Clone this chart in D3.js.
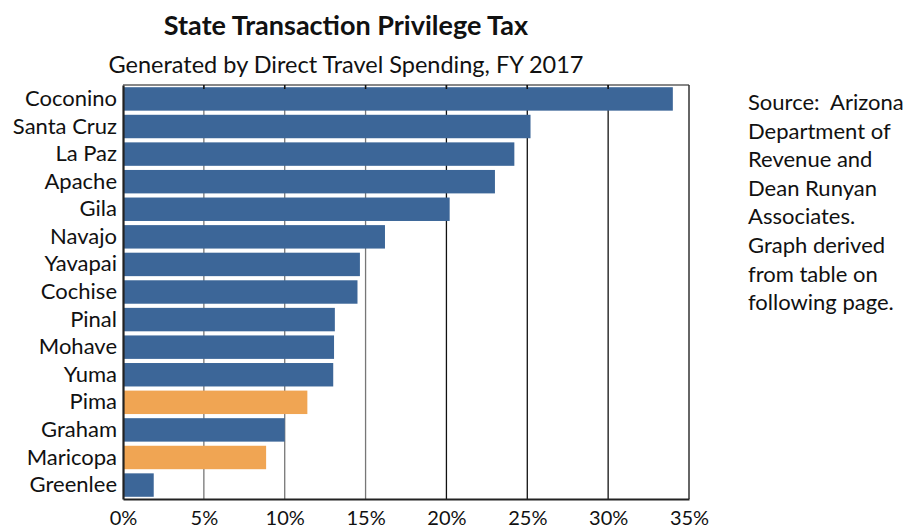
<!DOCTYPE html>
<html>
<head>
<meta charset="utf-8">
<script src="https://cdn.jsdelivr.net/npm/d3@7"></script>
<style>
  body { margin: 0; background: #fff; }
  svg { display: block; }
  text { font-family: Lato, "Open Sans", sans-serif; fill: #111; }
</style>
</head>
<body>
<svg id="chart" width="921" height="531"></svg>
<script>
const counties = ["Coconino","Santa Cruz","La Paz","Apache","Gila","Navajo","Yavapai","Cochise","Pinal","Mohave","Yuma","Pima","Graham","Maricopa","Greenlee"];
const values = [34.0, 25.2, 24.2, 23.0, 20.2, 16.2, 14.65, 14.5, 13.1, 13.05, 13.0, 11.4, 10.0, 8.85, 1.9];
const highlighted = ["Pima","Maricopa"];
const xTicks = [0, 5, 10, 15, 20, 25, 30, 35];
const title = "State Transaction Privilege Tax";
const subtitle = "Generated by Direct Travel Spending, FY 2017";
const sourceLines = ["Source:  Arizona","Department of","Revenue and","Dean Runyan","Associates.","Graph derived","from table on","following page."];

const svg = d3.select("#chart");
const m = {left: 123, right: 689, top: 85, bottom: 499};

const x = d3.scaleLinear().domain([0, 35]).range([m.left, m.right]);
const y = d3.scaleBand().domain(counties).range([m.top, m.bottom]).paddingInner(0.15).paddingOuter(0.08);

// gridlines
svg.append("g").selectAll("line").data(xTicks.slice(1, -1)).join("line")
  .attr("x1", d => x(d)).attr("x2", d => x(d))
  .attr("y1", m.top).attr("y2", m.bottom)
  .attr("stroke", (d, i) => i < 3 ? "#777" : "#111").attr("stroke-width", 1.3);

// bars
svg.append("g").selectAll("rect").data(counties).join("rect")
  .attr("x", x(0))
  .attr("y", d => y(d))
  .attr("width", (d, i) => x(values[i]) - x(0))
  .attr("height", y.bandwidth())
  .attr("fill", d => highlighted.includes(d) ? "#F0A553" : "#3C6698");

// frame top/right
svg.append("line").attr("x1", m.left).attr("x2", m.right).attr("y1", m.top).attr("y2", m.top).attr("stroke", "#111").attr("stroke-width", 1.2);
svg.append("line").attr("x1", m.right).attr("x2", m.right).attr("y1", m.top).attr("y2", m.bottom).attr("stroke", "#333").attr("stroke-width", 1.5);

// x axis
const xAxis = svg.append("g").attr("transform", `translate(0,${m.bottom})`)
  .call(d3.axisBottom(x).tickValues(xTicks).tickFormat(d => d + "%").tickSize(0).tickPadding(12));
xAxis.select(".domain").attr("stroke", "#222").attr("stroke-width", 2.2);
xAxis.selectAll("text").style("font-size", "20px").style("font-family", "Lato, sans-serif").attr("fill", "#111").attr("dy", "0.71em");

// y axis
const yAxis = svg.append("g").attr("transform", `translate(${m.left},0)`)
  .call(d3.axisLeft(y).tickSize(0).tickPadding(6));
yAxis.select(".domain").attr("stroke", "#222").attr("stroke-width", 2.2);
yAxis.selectAll("text").style("font-size", "22px").style("font-family", "Lato, sans-serif").attr("fill", "#111");

// top tick marks
svg.append("g").selectAll("line").data(xTicks.slice(1, -1)).join("line")
  .attr("x1", d => x(d)).attr("x2", d => x(d)).attr("y1", m.top).attr("y2", m.top + 4)
  .attr("stroke", "#111").attr("stroke-width", 1.5);

// title
svg.append("text").attr("x", 346).attr("y", 35).attr("text-anchor", "middle")
  .style("font-size", "27px").style("font-weight", "bold").text(title);
svg.append("text").attr("x", 346).attr("y", 73).attr("text-anchor", "middle")
  .style("font-size", "23.5px").text(subtitle);

// source
svg.append("g").selectAll("text").data(sourceLines).join("text")
  .attr("x", 748).attr("y", (d, i) => 110 + i * 28.6)
  .style("font-size", "22px").attr("xml:space", "preserve").style("white-space", "pre").text(d => d);
</script>
</body>
</html>
